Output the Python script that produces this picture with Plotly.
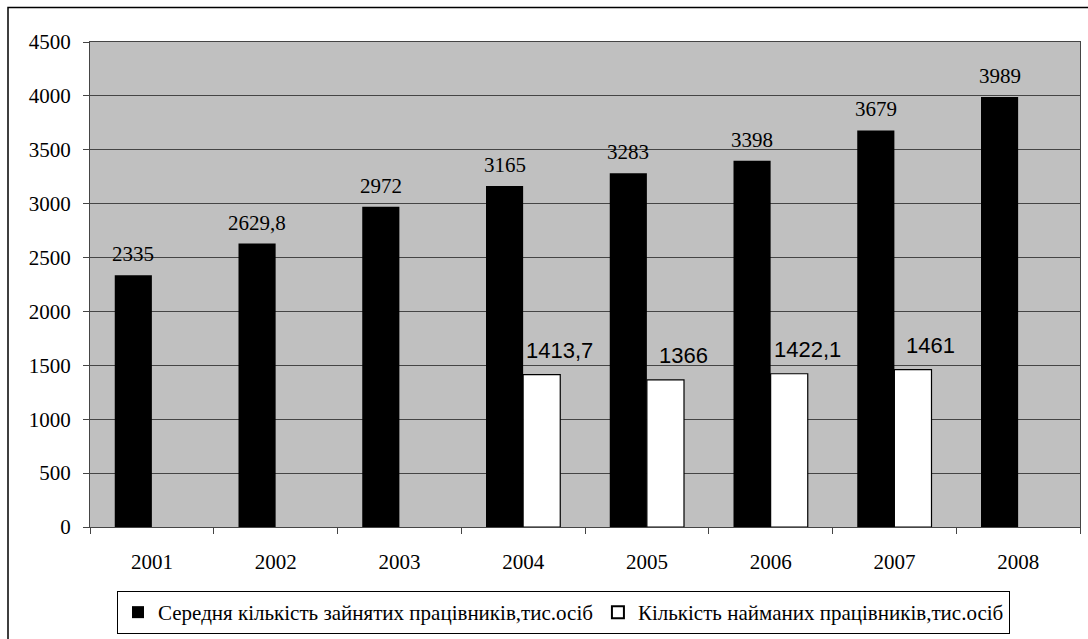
import plotly.graph_objects as go

years = ["2001", "2002", "2003", "2004", "2005", "2006", "2007", "2008"]
employed = [2335, 2629.8, 2972, 3165, 3283, 3398, 3679, 3989]
hired = [None, None, None, 1413.7, 1366, 1422.1, 1461, None]
name_employed = "Середня кількість зайнятих працівників,тис.осіб"
name_hired = "Кількість найманих працівників,тис.осіб"
y_ticks = [0, 500, 1000, 1500, 2000, 2500, 3000, 3500, 4000, 4500]

W, H = 1088, 639
ML, MR, MT, MB = 90, 8, 42, 112
PW, PH = W - ML - MR, H - MT - MB
BARGAP = 0.4
BW = (1 - BARGAP) / 2

SERIF = "Liberation Serif"
SANS = "Liberation Sans"
GRID = "#454545"
FS = 21


def fmt(v):
    return f"{v:g}".replace(".", ",")


fig = go.Figure()
fig.add_trace(go.Bar(
    x=years, y=employed, name=name_employed,
    marker=dict(color="black", line=dict(color="black", width=0)),
))
fig.add_trace(go.Bar(
    x=years, y=hired, name=name_hired,
    marker=dict(color="white", line=dict(color="black", width=1.2)),
))

annotations = []
for i, v in enumerate(employed):
    annotations.append(dict(
        x=i - BW / 2, y=v, xref="x", yref="y", text=fmt(v), showarrow=False,
        yanchor="middle", yshift=21,
        font=dict(family=SERIF, size=FS, color="black"),
    ))
for i, v in enumerate(hired):
    if v is None:
        continue
    annotations.append(dict(
        x=i + BW / 2, y=v, xref="x", yref="y", text=fmt(v), showarrow=False,
        yanchor="middle", yshift=24, xshift=18,
        font=dict(family=SANS, size=22, color="black"),
    ))


def px_x(p):
    return (p - ML) / PW


def px_y(p):
    return (H - MB - p) / PH


fig.update_layout(
    width=W, height=H,
    margin=dict(l=ML, r=MR, t=MT, b=MB, autoexpand=False),
    paper_bgcolor="white",
    plot_bgcolor="#c0c0c0",
    barmode="group", bargap=BARGAP, bargroupgap=0,
    font=dict(family=SERIF, size=FS, color="black"),
    annotations=annotations,
    showlegend=True,
    legend=dict(
        orientation="h",
        xref="container", x=117 / W, xanchor="left",
        yref="container", y=1 - 634 / H, yanchor="bottom",
        bordercolor="black", borderwidth=1, bgcolor="white",
        font=dict(family=SERIF, size=FS, color="black"),
        itemsizing="constant", tracegroupgap=0,
    ),
    shapes=[dict(
        type="rect", xref="paper", yref="paper", layer="below",
        x0=px_x(8), x1=px_x(1100), y0=px_y(660), y1=px_y(7.5),
        line=dict(color="black", width=1.5), fillcolor="rgba(0,0,0,0)",
    )],
)
fig.update_xaxes(
    type="category", tickson="boundaries", ticks="outside", ticklen=6,
    tickcolor=GRID, showline=True, linecolor=GRID, linewidth=1, mirror=True,
    showgrid=False, ticklabelstandoff=16, automargin=False,
    tickfont=dict(family=SERIF, size=FS, color="black"),
)
fig.update_yaxes(
    range=[0, 4500], tickvals=y_ticks, ticks="outside", ticklen=6,
    tickcolor=GRID, showline=True, linecolor=GRID, linewidth=1, mirror=True,
    showgrid=True, gridcolor=GRID, gridwidth=1, zeroline=False,
    ticklabelstandoff=8, automargin=False,
    tickfont=dict(family=SERIF, size=FS, color="black"),
)

fig.write_html(
    "out.html",
    config={"displayModeBar": False},
    post_script="document.body.style.margin='0';"
                "document.documentElement.style.overflow='hidden';",
)
